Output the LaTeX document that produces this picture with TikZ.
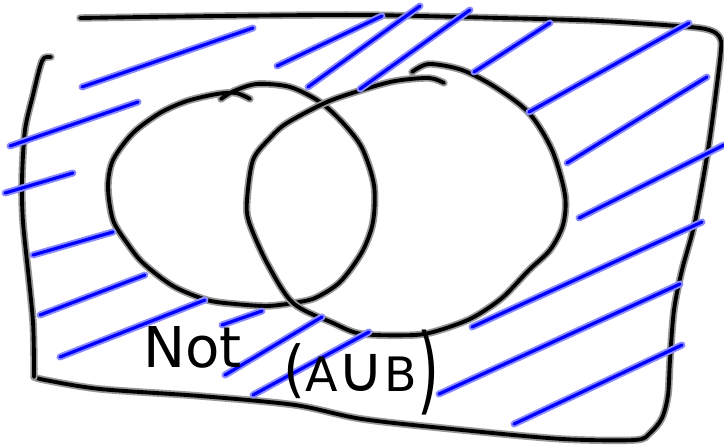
\documentclass[tikz,border=0pt]{standalone}
\usepackage{fontspec}
\setmainfont{DejaVu Sans}

\begin{document}
\begin{tikzpicture}[x=0.02cm,y=-0.02cm]
\tikzset{
  ink/.style={line width=2.2pt,black,line cap=round,line join=round,
    preaction={draw,black!40,line width=4.2pt,line cap=round,line join=round}},
  hatch/.style={line width=1.8pt,blue,line cap=round,
    preaction={draw,blue!45,line width=4pt,line cap=round}},
  scribble/.style={inner sep=0pt,font=\fontsize{32}{36}\selectfont}
}
\useasboundingbox (0,0) rectangle (724,445);
\draw[ink] plot[smooth] coordinates {(80,18) (220,16) (362,15) (500,18) (600,21) (690,27) (712,31) (720,38) (721,50) (715,100) (708,150) (695,222) (682,270) (674,310) (670,360) (668,395) (662,418) (650,433) (635,440) (562,439) (462,430) (362,419) (295,405) (200,396) (100,389) (45,380) (34,377)};
\draw[ink] plot[smooth] coordinates {(34,377) (34,360) (33,322) (29,280) (23,222) (22,180) (25,130) (33,95) (40,67) (44,58) (51,57)};
\draw[ink] plot[smooth] coordinates {(221,99) (234,91) (257,84) (290,87) (320,102) (343,123) (362,148) (374,185) (373,222) (362,252) (340,282) (315,298) (293,303) (267,306) (235,304) (207,300) (173,286) (143,263) (127,243) (113,220) (108,187) (113,160) (133,133) (160,113) (187,101) (217,94) (236,93) (250,99)};
\draw[ink] plot[smooth] coordinates {(412,72) (429,64) (462,70) (495,87) (529,113) (552,150) (565,195) (563,225) (550,250) (529,270) (502,298) (472,318) (440,330) (415,335) (362,334) (333,323) (293,303) (267,263) (249,222) (247,200) (253,160) (270,138) (287,123) (327,102) (362,90) (395,81) (429,78) (444,83)};
\draw[hatch] (82,87) -- (253,28);
\draw[hatch] (10,146) -- (138,102);
\draw[hatch] (5,193) -- (73,173);
\draw[hatch] (33,255) -- (113,232);
\draw[hatch] (40,315) -- (145,275);
\draw[hatch] (60,357) -- (205,300);
\draw[hatch] (222,325) -- (262,311);
\draw[hatch] (225,375) -- (322,317);
\draw[hatch] (253,395) -- (369,332);
\draw[hatch] (277,66) -- (382,16);
\draw[hatch] (308,87) -- (420,6);
\draw[hatch] (360,89) -- (470,10);
\draw[hatch] (474,72) -- (550,23);
\draw[hatch] (529,112) -- (689,23);
\draw[hatch] (567,163) -- (707,77);
\draw[hatch] (579,218) -- (724,145);
\draw[hatch] (472,327) -- (702,222);
\draw[hatch] (439,394) -- (680,284);
\draw[hatch] (514,424) -- (682,345);
\node[scribble,anchor=base west] (t_not) at (143,368) {Not};
\node[scribble,anchor=base west] (t_union) at (283,392) {\raisebox{1pt}{\scalebox{1}[1.1]{(}}{\fontsize{27}{31}\selectfont A\scalebox{1.35}{∪}B}\raisebox{-6pt}{\scalebox{1}[1.7]{)}}};
\end{tikzpicture}
\end{document}
